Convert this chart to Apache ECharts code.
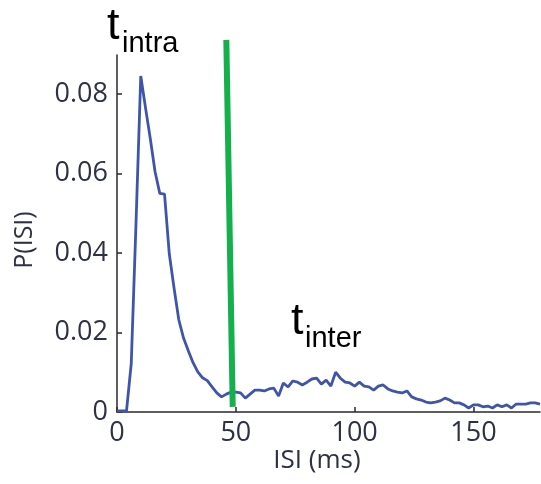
<!DOCTYPE html>
<html>
<head>
<meta charset="utf-8">
<script src="https://cdn.jsdelivr.net/npm/echarts@6/dist/echarts.min.js"></script>
<style>
  html, body { margin: 0; padding: 0; background: #fff; }
  #chart { width: 541px; height: 484px; }
</style>
</head>
<body>
<div id="chart"></div>
<script>
// ISI histogram, 2 ms bins
const isiBins = [];
for (let t = 0; t <= 178; t += 2) isiBins.push(t);

const pIsi = [
  0.0003, 0.0003, 0.0003, 0.0122, 0.0475, 0.0845, 0.0765, 0.0688, 0.0605, 0.0550,
  0.0548, 0.0398, 0.0312, 0.0232, 0.0186, 0.0154, 0.0124, 0.0101, 0.0086, 0.0079,
  0.0063, 0.0048, 0.0038, 0.0045, 0.0050, 0.0050, 0.0048, 0.0035, 0.0045, 0.0055,
  0.0055, 0.0053, 0.0058, 0.0060, 0.0040, 0.0073, 0.0063, 0.0078, 0.0075, 0.0068,
  0.0075, 0.0083, 0.0085, 0.0070, 0.0080, 0.0065, 0.0100, 0.0085, 0.0075, 0.0073,
  0.0065, 0.0075, 0.0065, 0.0063, 0.0055, 0.0065, 0.0068, 0.0058, 0.0053, 0.0050,
  0.0048, 0.0053, 0.0038, 0.0033, 0.0030, 0.0025, 0.0023, 0.0025, 0.0028, 0.0035,
  0.0030, 0.0023, 0.0023, 0.0018, 0.0010, 0.0018, 0.0018, 0.0013, 0.0015, 0.0010,
  0.0018, 0.0013, 0.0018, 0.0010, 0.0020, 0.0020, 0.0020, 0.0023, 0.0023, 0.0020
];

// Threshold marker separating intra- and inter-burst intervals
const thresholdX = [46.0, 48.7];
const thresholdY = [0.0936, 0.0013];

const xTicks = [0, 50, 100, 150];
const yTicks = [0, 0.02, 0.04, 0.06, 0.08];

const xMax = 178;
const yMax = 0.0898;

const chart = echarts.init(document.getElementById('chart'), null, { renderer: 'canvas' });

const axisColor = '#2a2a2a';
const labelColor = '#2c3144';
const labelFont = 'Open Sans';

chart.setOption({
  animation: false,
  backgroundColor: '#ffffff',
  grid: { left: 117, right: 1, top: 55, bottom: 72, containLabel: false },
  xAxis: {
    type: 'value',
    min: 0,
    max: xMax,
    axisLine: { show: true, lineStyle: { color: axisColor, width: 1.5 } },
    axisTick: { show: true, inside: true, length: 5, customValues: xTicks, lineStyle: { color: axisColor, width: 1.5 } },
    axisLabel: { customValues: xTicks, margin: 8, color: labelColor, fontFamily: labelFont, fontSize: 27 },
    splitLine: { show: false }
  },
  yAxis: {
    type: 'value',
    min: 0,
    max: yMax,
    axisLine: { show: true, lineStyle: { color: axisColor, width: 1.5 } },
    axisTick: { show: true, inside: true, length: 5, customValues: yTicks, lineStyle: { color: axisColor, width: 1.5 } },
    axisLabel: {
      customValues: yTicks,
      margin: 9,
      color: labelColor,
      fontFamily: labelFont,
      fontSize: 27,
      formatter: v => (v === 0 ? '0' : v.toFixed(2))
    },
    splitLine: { show: false }
  },
  series: [
    {
      type: 'line',
      data: isiBins.map((t, i) => [t, pIsi[i]]),
      showSymbol: false,
      lineStyle: { color: '#3f55aa', width: 2.8 },
      z: 2
    },
    {
      type: 'line',
      data: thresholdX.map((x, i) => [x, thresholdY[i]]),
      showSymbol: false,
      clip: false,
      lineStyle: { color: '#14b04c', width: 6, cap: 'butt' },
      z: 3
    }
  ],
  graphic: [
    {
      type: 'text', x: 25, y: 240, rotation: Math.PI / 2,
      style: { text: 'P(ISI)', fontFamily: labelFont, fontSize: 25, fill: labelColor, align: 'center', verticalAlign: 'middle' }
    },
    {
      type: 'text', x: 317, y: 461,
      style: { text: 'ISI (ms)', fontFamily: labelFont, fontSize: 26, fill: labelColor, align: 'center', verticalAlign: 'middle' }
    },
    {
      type: 'text', x: 107, y: 49,
      style: { text: 't', fontFamily: 'Liberation Sans', fontSize: 45, fill: '#000', align: 'left', verticalAlign: 'bottom' }
    },
    {
      type: 'text', x: 122, y: 58,
      style: { text: 'intra', fontFamily: 'Liberation Sans', fontSize: 29, fill: '#000', align: 'left', verticalAlign: 'bottom' }
    },
    {
      type: 'text', x: 291, y: 344,
      style: { text: 't', fontFamily: 'Liberation Sans', fontSize: 45, fill: '#000', align: 'left', verticalAlign: 'bottom' }
    },
    {
      type: 'text', x: 305, y: 353,
      style: { text: 'inter', fontFamily: 'Liberation Sans', fontSize: 29, fill: '#000', align: 'left', verticalAlign: 'bottom' }
    }
  ]
});
</script>
</body>
</html>
